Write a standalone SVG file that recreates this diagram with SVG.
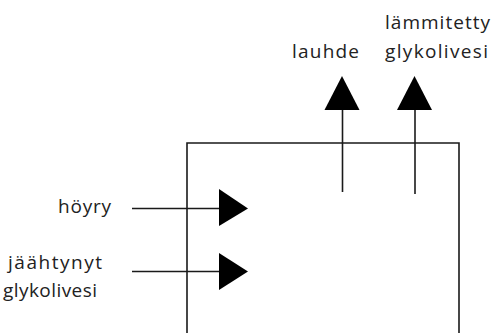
<svg xmlns="http://www.w3.org/2000/svg" width="497" height="333" viewBox="0 0 497 333">
  <style>
    .lbl { font-family: "Open Sans", "DejaVu Sans", sans-serif; font-size: 19px; fill: #222; }
    .edge { stroke: #1a1a1a; stroke-width: 1.6; fill: none; }
    .head { fill: #000; stroke: none; }
  </style>
  <rect width="497" height="333" fill="#fff"/>

  <!-- heat exchanger body (open at the bottom) -->
  <g id="unit">
    <path class="edge" d="M187,333 V143 H459 V333"/>
  </g>

  <!-- stream labels -->
  <g id="label-hoyry">
    <text class="lbl" x="58" y="213" textLength="53" lengthAdjust="spacing">höyry</text>
  </g>
  <g id="label-jaahtynyt">
    <text class="lbl" x="8" y="269" textLength="94" lengthAdjust="spacing">jäähtynyt</text>
    <text class="lbl" x="3" y="297" textLength="94" lengthAdjust="spacing">glykolivesi</text>
  </g>
  <g id="label-lauhde">
    <text class="lbl" x="292" y="58" textLength="67" lengthAdjust="spacing">lauhde</text>
  </g>
  <g id="label-lammitetty">
    <text class="lbl" x="385" y="29" textLength="105" lengthAdjust="spacing">lämmitetty</text>
    <text class="lbl" x="385" y="58" textLength="103" lengthAdjust="spacing">glykolivesi</text>
  </g>

  <!-- inflow and outflow streams -->
  <g id="connectors">
    <line class="edge" x1="132" y1="208.5" x2="220" y2="208.5"/>
    <polygon class="head" points="219,189 219,226 248,208.5"/>
    <line class="edge" x1="132" y1="271.5" x2="220" y2="271.5"/>
    <polygon class="head" points="219,253 219,290 248,271.5"/>
    <line class="edge" x1="342.5" y1="192" x2="342.5" y2="109"/>
    <polygon class="head" points="324.5,110 359.5,110 342,76"/>
    <line class="edge" x1="415" y1="194" x2="415" y2="109"/>
    <polygon class="head" points="397,110 432,110 414.5,76"/>
  </g>
</svg>
